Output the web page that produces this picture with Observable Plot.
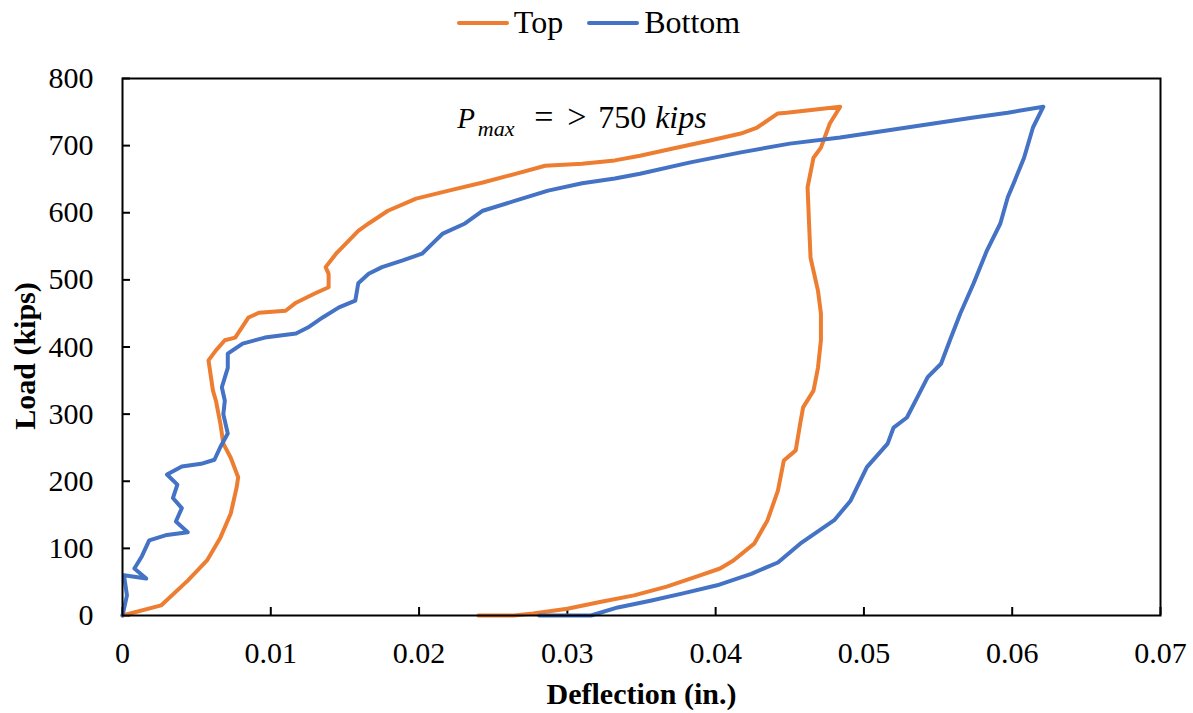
<!DOCTYPE html>
<html>
<head>
<meta charset="utf-8">
<script src="https://cdn.jsdelivr.net/npm/d3@7"></script>
<script src="https://cdn.jsdelivr.net/npm/@observablehq/plot@0.6"></script>
<style>
  html, body { margin: 0; padding: 0; background: #fff; }
  #legend { height: 45px; display: flex; justify-content: center; align-items: center; padding-left: 4px;
            font-family: "Liberation Serif", "Times New Roman", serif; font-size: 32px; color: #000; }
  .item { display: flex; align-items: center; margin: 0 12px; }
  .sw { display: inline-block; width: 52px; height: 4px; border-radius: 2px; margin-right: 5px; }
</style>
</head>
<body>
<div id="legend"></div>
<div id="chart"></div>
<script>
// ---- data ----
const seriesNames = ["Top", "Bottom"];
const seriesColors = ["#ED7D31", "#4472C4"];

const topX = [0, 0.0026, 0.0044, 0.0057, 0.0066, 0.0073, 0.0077, 0.0078, 0.0073, 0.0068, 0.0066, 0.0063, 0.0061, 0.0058, 0.0063, 0.0069, 0.0076, 0.0085, 0.0092, 0.011, 0.0117, 0.013, 0.0139, 0.0139, 0.0137, 0.0144, 0.0148, 0.0159, 0.0166, 0.0179, 0.0198, 0.022, 0.0243, 0.0265, 0.0285, 0.031, 0.0332, 0.0349, 0.0372, 0.0397, 0.0417, 0.0428, 0.0442, 0.0448, 0.0484,
  0.0477, 0.0471, 0.0466, 0.0462, 0.0463, 0.0464, 0.0469, 0.0471, 0.0471, 0.0469, 0.0466, 0.0459, 0.0457, 0.0454, 0.0446, 0.0442, 0.0435, 0.0426, 0.0412, 0.0403, 0.039, 0.0367, 0.0345, 0.0322, 0.03, 0.0277, 0.0264, 0.024];
const topY = [0, 15, 52, 82, 116, 152, 191, 206, 235, 256, 286, 320, 335, 380, 395, 410, 414, 444, 451, 454, 466, 480, 489, 509, 519, 539, 548, 573, 584, 603, 621, 633, 645, 658, 670, 673, 678, 685, 696, 708, 718, 727, 748, 749, 758,
  733, 697, 682, 638, 584, 533, 484, 450, 410, 369, 335, 310, 286, 246, 231, 186, 142, 107, 82, 70, 60, 43, 30, 20, 10, 3, 0, 0];

const bottomX = [0, 0.0003, 0.0001, 0.0016, 0.0008, 0.0013, 0.0018, 0.003, 0.0044, 0.0036, 0.004, 0.0034, 0.0037, 0.003, 0.004, 0.0053, 0.0062, 0.0066, 0.0071, 0.0068, 0.0069, 0.0067, 0.0071, 0.0071, 0.0081, 0.0096, 0.0117, 0.0125, 0.0135, 0.0146, 0.0157, 0.0159, 0.0166, 0.0175, 0.0189, 0.0202, 0.0209, 0.0216, 0.0231, 0.0243, 0.0265, 0.0287, 0.031, 0.0332, 0.0349, 0.0383, 0.0417, 0.045, 0.0484, 0.0529, 0.0574, 0.0597, 0.0621,
  0.0614, 0.0608, 0.0601, 0.0597, 0.0592, 0.0583, 0.0574, 0.0565, 0.0558, 0.0552, 0.0543, 0.0536, 0.0529, 0.052, 0.0516, 0.0502, 0.0491, 0.048, 0.0457, 0.0442, 0.0424, 0.0401, 0.0378, 0.0356, 0.0334, 0.0316, 0.0281];
const bottomY = [0, 30, 60, 55, 70, 88, 112, 120, 124, 140, 160, 175, 195, 210, 222, 226, 232, 251, 271, 300, 320, 340, 369, 390, 405, 414, 420, 429, 444, 459, 469, 495, 509, 519, 529, 539, 554, 569, 584, 603, 618, 633, 644, 651, 658, 675, 690, 703, 712, 727, 742, 749, 758,
  727, 682, 644, 623, 584, 544, 495, 450, 410, 375, 355, 325, 295, 280, 256, 221, 171, 142, 107, 79, 62, 45, 33, 22, 12, 0, 0];

const xTicks = [0, 0.01, 0.02, 0.03, 0.04, 0.05, 0.06, 0.07];
const yTicks = [0, 100, 200, 300, 400, 500, 600, 700, 800];
const xTitle = "Deflection (in.)";
const yTitle = "Load (kips)";
const annotParts = ["P", "max", "=", ">", "750", "kips"];
const annotX = 0.0226, annotY = 725;

// ---- tables ----
const topData = topX.map((x, i) => ({x, y: topY[i], s: seriesNames[0]}));
const bottomData = bottomX.map((x, i) => ({x, y: bottomY[i], s: seriesNames[1]}));

// ---- legend ----
const legend = document.getElementById("legend");
seriesNames.forEach((n, i) => {
  const it = document.createElement("div"); it.className = "item";
  const sw = document.createElement("span"); sw.className = "sw"; sw.style.background = seriesColors[i];
  const t = document.createElement("span"); t.textContent = n;
  it.appendChild(sw); it.appendChild(t); legend.appendChild(it);
});

// ---- chart ----
const W = 1193, H = 668, mT = 33, mB = 98, mL = 122, mR = 33;
const innerW = W - mL - mR, innerH = H - mT - mB;
const font = "'Liberation Serif', 'Times New Roman', serif";

const plot = Plot.plot({
  width: W, height: H, marginTop: mT, marginBottom: mB, marginLeft: mL, marginRight: mR,
  x: {domain: [0, 0.07]},
  y: {domain: [0, 800]},
  style: {fontFamily: font, fontSize: "30px", color: "#000", background: "#fff", overflow: "visible"},
  marks: [
    Plot.axisX({ticks: xTicks, tickSize: 0, tickPadding: 26, fontSize: 30, label: null,
      tickFormat: d => d === 0 ? "0" : d.toFixed(2)}),
    Plot.axisY({ticks: yTicks, tickSize: 0, tickPadding: 29, fontSize: 30, label: null}),
    Plot.tickX(xTicks, {x: d => d, insetTop: innerH - 8, stroke: "#000", strokeWidth: 2}),
    Plot.tickY(yTicks, {y: d => d, insetRight: innerW - 8, stroke: "#000", strokeWidth: 2}),
    Plot.line(topData, {x: "x", y: "y", stroke: seriesColors[0], strokeWidth: 4}),
    Plot.line(bottomData, {x: "x", y: "y", stroke: seriesColors[1], strokeWidth: 4}),
    Plot.frame({stroke: "#000", strokeWidth: 2}),
    Plot.text([xTitle], {text: d => d, frameAnchor: "bottom", textAnchor: "middle", dy: 88, fontWeight: "bold", fontSize: 30}),
    Plot.text([yTitle], {text: d => d, frameAnchor: "left", textAnchor: "middle", rotate: -90, dx: -97, dy: 9, fontWeight: "bold", fontSize: 30})
  ]
});
document.getElementById("chart").appendChild(plot);

// ---- annotation: P_max = > 750 kips ----
const ax = plot.scale("x").apply(annotX);
const ay = plot.scale("y").apply(annotY);
const g = d3.select(plot).append("g")
  .attr("font-family", "'Liberation Serif', 'Times New Roman', serif")
  .attr("text-anchor", "start").attr("fill", "#000");
const pm = g.append("text").attr("x", ax).attr("y", ay).attr("font-size", 29).attr("font-style", "italic");
pm.append("tspan").text(annotParts[0]);
pm.append("tspan").attr("dx", 3).attr("dy", 8).attr("font-size", 22).text(annotParts[1]);
g.append("text").attr("x", ax + 77).attr("y", ay).attr("font-size", 34).text(annotParts[2]);
g.append("text").attr("x", ax + 110).attr("y", ay).attr("font-size", 34).text(annotParts[3]);
g.append("text").attr("x", ax + 141).attr("y", ay).attr("font-size", 32).text(annotParts[4]);
g.append("text").attr("x", ax + 198).attr("y", ay).attr("font-size", 32).attr("font-style", "italic").text(annotParts[5]);
</script>
</body>
</html>
